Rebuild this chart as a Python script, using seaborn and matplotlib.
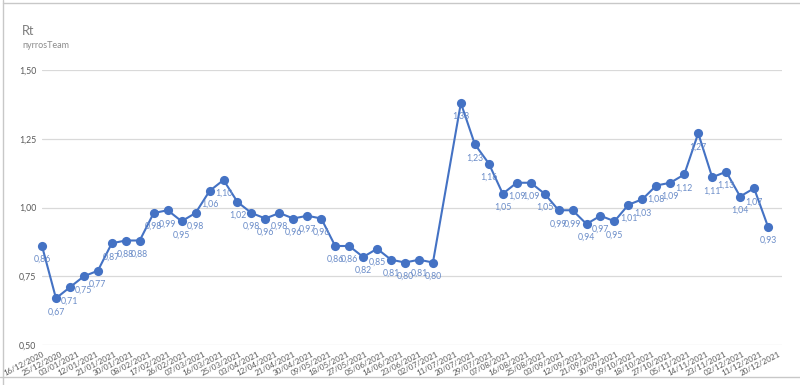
import matplotlib
matplotlib.use("Agg")
import matplotlib.pyplot as plt
from matplotlib.lines import Line2D
import seaborn as sns
import pandas as pd

# ---- data ----
dates = [
    "2020-12-16", "2020-12-23", "2020-12-30", "2021-01-06", "2021-01-13",
    "2021-01-20", "2021-01-27", "2021-02-03", "2021-02-10", "2021-02-17",
    "2021-02-24", "2021-03-03", "2021-03-10", "2021-03-17", "2021-03-24",
    "2021-03-31", "2021-04-07", "2021-04-14", "2021-04-21", "2021-04-28",
    "2021-05-05", "2021-05-12", "2021-05-19", "2021-05-26", "2021-06-02",
    "2021-06-09", "2021-06-16", "2021-06-23", "2021-06-30",
    "2021-07-14", "2021-07-21", "2021-07-28", "2021-08-04", "2021-08-11",
    "2021-08-18", "2021-08-25", "2021-09-01", "2021-09-08", "2021-09-15",
    "2021-09-22", "2021-09-29", "2021-10-06", "2021-10-13", "2021-10-20",
    "2021-10-27", "2021-11-03", "2021-11-10", "2021-11-17", "2021-11-24",
    "2021-12-01", "2021-12-08", "2021-12-15",
]
rt = [
    0.86, 0.67, 0.71, 0.75, 0.77, 0.87, 0.88, 0.88, 0.98, 0.99,
    0.95, 0.98, 1.06, 1.10, 1.02, 0.98, 0.96, 0.98, 0.96, 0.97,
    0.96, 0.86, 0.86, 0.82, 0.85, 0.81, 0.80, 0.81, 0.80,
    1.38, 1.23, 1.16, 1.05, 1.09, 1.09, 1.05, 0.99, 0.99, 0.94,
    0.97, 0.95, 1.01, 1.03, 1.08, 1.09, 1.12, 1.27, 1.11, 1.13,
    1.04, 1.07, 0.93,
]
tick_labels = [
    "16/12/2020", "25/12/2020", "03/01/2021", "12/01/2021", "21/01/2021",
    "30/01/2021", "08/02/2021", "17/02/2021", "26/02/2021", "07/03/2021",
    "16/03/2021", "25/03/2021", "03/04/2021", "12/04/2021", "21/04/2021",
    "30/04/2021", "09/05/2021", "18/05/2021", "27/05/2021", "05/06/2021",
    "14/06/2021", "23/06/2021", "02/07/2021", "11/07/2021", "20/07/2021",
    "29/07/2021", "07/08/2021", "16/08/2021", "25/08/2021", "03/09/2021",
    "12/09/2021", "21/09/2021", "30/09/2021", "09/10/2021", "18/10/2021",
    "27/10/2021", "05/11/2021", "14/11/2021", "23/11/2021", "02/12/2021",
    "11/12/2021", "20/12/2021",
]
y_ticks = [0.50, 0.75, 1.00, 1.25, 1.50]
title = "Rt"
subtitle = "nyrrosTeam"

df = pd.DataFrame({"date": pd.to_datetime(dates), "Rt": rt})
tick_pos = pd.to_datetime(tick_labels, format="%d/%m/%Y")

sns.set_theme(style="white")
plt.rcParams["font.family"] = ["Lato", "DejaVu Sans"]

BLUE = "#4472C4"
LABEL_BLUE = "#6a8cc8"
GRID = "#d9d9d9"
TXT = "#595959"

fig = plt.figure(figsize=(8.0, 3.85), dpi=100)
ax = fig.add_axes([42 / 800, 40 / 385, 740 / 800, 275 / 385])

sns.lineplot(data=df, x="date", y="Rt", ax=ax, color=BLUE, linewidth=1.5,
             marker="o", markersize=6.6, markeredgewidth=0, markeredgecolor=BLUE,
             markerfacecolor=BLUE, zorder=3)

for d, v in zip(df["date"], df["Rt"]):
    ax.annotate(f"{v:.2f}".replace(".", ","), (d, v), xytext=(0, -6.5),
                textcoords="offset points", ha="center", va="top",
                fontsize=6.3, color=LABEL_BLUE, zorder=4)

ax.set_ylim(0.5, 1.5)
ax.set_yticks(y_ticks)
ax.set_yticklabels([f"{t:.2f}".replace(".", ",") for t in y_ticks],
                   fontsize=6.3, color=TXT)
ax.set_xlim(pd.Timestamp("2020-12-16"), pd.Timestamp("2021-12-22"))
ax.set_xticks(tick_pos)
ax.set_xticklabels(tick_labels, rotation=27, ha="right",
                   rotation_mode="anchor", fontsize=5.8, color=TXT)
ax.tick_params(axis="x", length=0, pad=4)
ax.tick_params(axis="y", length=0, pad=4)
ax.set_xlabel("")
ax.set_ylabel("")
ax.grid(axis="y", color=GRID, linewidth=0.9)
ax.grid(axis="x", visible=False)
for s in ax.spines.values():
    s.set_visible(False)
for ln in ax.lines:
    ln.set_clip_on(False)

fig.text(22 / 800, 1 - 31 / 385, title, fontsize=9.2, color="#7f7f7f",
         ha="left", va="center")
fig.text(22 / 800, 1 - 46 / 385, subtitle, fontsize=6.5, color="#8c8c8c",
         ha="left", va="center")

# outer chart frame
FRAME = "#c8c8c8"
fig.add_artist(Line2D([3 / 800, 3 / 800], [0, 1], transform=fig.transFigure,
                      color=FRAME, linewidth=1))
fig.add_artist(Line2D([3 / 800, 1], [1 - 3 / 385, 1 - 3 / 385],
                      transform=fig.transFigure, color=FRAME, linewidth=1))
fig.add_artist(Line2D([0, 1], [1 - 377 / 385, 1 - 377 / 385],
                      transform=fig.transFigure, color=FRAME, linewidth=1))

fig.savefig("out.png", dpi=100)
